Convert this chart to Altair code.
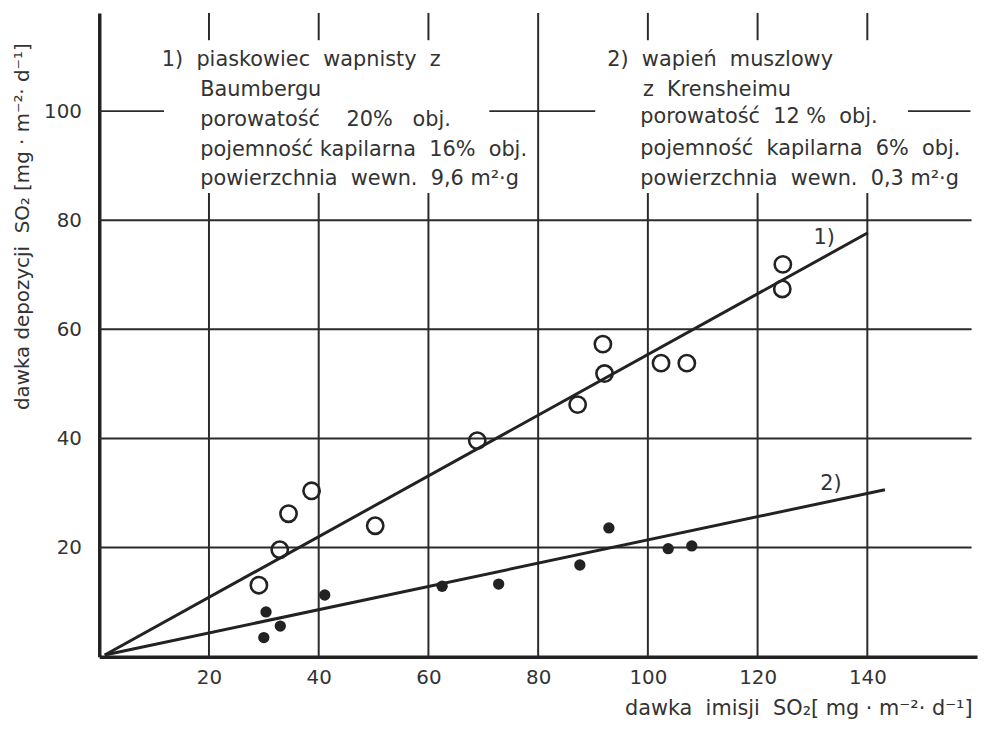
import altair as alt
import pandas as pd

# ---- data ----
# 1) piaskowiec wapnisty (open circles)
s1_x = [29.1, 32.9, 34.5, 38.7, 50.3, 68.9, 87.2, 91.8, 92.1, 102.4, 107.1, 124.5, 124.6]
s1_y = [13.1, 19.6, 26.2, 30.4, 24.0, 39.6, 46.2, 57.3, 51.9, 53.8, 53.8, 67.4, 71.9]
# 2) wapień muszlowy (filled dots)
s2_x = [30.0, 30.4, 33.0, 41.1, 62.5, 72.8, 87.6, 92.9, 103.7, 108.0]
s2_y = [3.5, 8.2, 5.6, 11.3, 12.9, 13.3, 16.8, 23.6, 19.8, 20.3]
# fitted lines
line1_x = [1.0, 140.1]
line1_y = [0.3, 77.7]
line2_x = [1.0, 143.2]
line2_y = [0.3, 30.6]

x_ticks = [20, 40, 60, 80, 100, 120, 140]
y_ticks = [20, 40, 60, 80, 100]

# grid pieces (the text boxes interrupt the grid in the upper part)
hgrid_y = [20, 40, 60, 80]
hgrid_100_from = [0.0, 71.1, 147.4]
hgrid_100_to = [11.8, 90.4, 158.8]
vgrid_low_x = [20, 40, 60, 100, 120, 140]
vgrid_full_x = [80]

S = "\u00a0"  # non-collapsing space
block1 = [f"1){S}{S}piaskowiec{S}{S}wapnisty{S}{S}z",
          "Baumbergu",
          f"porowatość{S}{S}{S}{S}20%{S}{S}{S}obj.",
          f"pojemność{S}kapilarna{S}{S}16%{S}{S}obj.",
          f"powierzchnia{S}{S}wewn.{S}{S}9,6{S}m²·g"]
block1_x = [11.4, 18.4, 18.4, 18.4, 18.4]
block1_y = [109.3, 103.8, 98.4, 92.9, 87.5]
block2 = [f"2){S}{S}wapień{S}{S}muszlowy",
          f"z{S}{S}Krensheimu",
          f"porowatość{S}{S}12{S}%{S}{S}obj.",
          f"pojemność{S}{S}kapilarna{S}{S}6%{S}{S}obj.",
          f"powierzchnia{S}{S}wewn.{S}{S}0,3{S}m²·g"]
block2_x = [92.6, 99.1, 98.6, 98.6, 98.6]
block2_y = [109.3, 103.8, 98.9, 93.1, 87.5]
line_labels = ["1)", "2)"]
line_labels_x = [130.2, 131.4]
line_labels_y = [76.8, 31.6]

FONT = "DejaVu Sans"
INK = "#222222"
TXT = "#333333"

xs = alt.Scale(domain=[0, 160], nice=False, zero=False)
ys = alt.Scale(domain=[0, 118], nice=False, zero=False)

x_axis = alt.Axis(values=x_ticks, grid=False, ticks=False, domainWidth=3.5, domainColor=INK,
                  labelFont=FONT, labelFontSize=20, labelColor=TXT, labelPadding=11,
                  title=f"dawka{S}{S}imisji{S}{S}SO₂[{S}mg{S}·{S}m⁻²·{S}d⁻¹]", titleFont=FONT,
                  titleFontSize=21, titleFontWeight="normal", titleColor=TXT, titleX=880,
                  titleY=58, titleAlign="right", titleBaseline="alphabetic", titleAngle=0)
y_axis = alt.Axis(values=y_ticks, grid=False, ticks=False, domainWidth=3.5, domainColor=INK,
                  labelFont=FONT, labelFontSize=20, labelColor=TXT, labelPadding=18,
                  title=f"dawka{S}depozycji{S}{S}SO₂{S}[mg{S}·{S}m⁻²·{S}d⁻¹]", titleFont=FONT,
                  titleFontSize=20, titleFontWeight="normal", titleColor=TXT, titleX=-77,
                  titleY=215, titleAlign="center", titleBaseline="middle", titleAngle=-90)


def X(field="x"):
    return alt.X(f"{field}:Q", scale=xs, axis=x_axis)


def Y(field="y"):
    return alt.Y(f"{field}:Q", scale=ys, axis=y_axis)


hgrid = pd.DataFrame({"y": hgrid_y, "x": [0] * len(hgrid_y), "x2": [159] * len(hgrid_y)})
h100 = pd.DataFrame({"y": [100] * 3, "x": hgrid_100_from, "x2": hgrid_100_to})
vlow = pd.DataFrame({"x": vgrid_low_x, "y": [0] * 6, "y2": [85] * 6})
vtop = pd.DataFrame({"x": vgrid_low_x, "y": [113] * 6, "y2": [118] * 6})
vfull = pd.DataFrame({"x": vgrid_full_x, "y": [0], "y2": [118]})

grid_style = dict(color="#2b2b2b", strokeWidth=2)
layers = []
layers.append(alt.Chart(hgrid).mark_rule(**grid_style).encode(x=X(), x2="x2:Q", y=Y()))
layers.append(alt.Chart(h100).mark_rule(**grid_style).encode(x=X(), x2="x2:Q", y=Y()))
layers.append(alt.Chart(vlow).mark_rule(**grid_style).encode(x=X(), y=Y(), y2="y2:Q"))
layers.append(alt.Chart(vtop).mark_rule(**grid_style).encode(x=X(), y=Y(), y2="y2:Q"))
layers.append(alt.Chart(vfull).mark_rule(**grid_style).encode(x=X(), y=Y(), y2="y2:Q"))

l1 = pd.DataFrame({"x": line1_x, "y": line1_y})
l2 = pd.DataFrame({"x": line2_x, "y": line2_y})
layers.append(alt.Chart(l1).mark_line(color=INK, strokeWidth=3).encode(x=X(), y=Y()))
layers.append(alt.Chart(l2).mark_line(color=INK, strokeWidth=3).encode(x=X(), y=Y()))

p1 = pd.DataFrame({"x": s1_x, "y": s1_y})
p2 = pd.DataFrame({"x": s2_x, "y": s2_y})
layers.append(alt.Chart(p1).mark_point(shape="circle", filled=False, color=INK, strokeWidth=2.6,
                                       size=270, opacity=1, fill="white", fillOpacity=0)
              .encode(x=X(), y=Y()))
layers.append(alt.Chart(p2).mark_point(shape="circle", filled=True, color=INK, size=130, opacity=1)
              .encode(x=X(), y=Y()))

txt_style = dict(font=FONT, fontSize=21, color=TXT, align="left", baseline="middle")
b1 = pd.DataFrame({"x": block1_x, "y": block1_y, "t": block1})
b2 = pd.DataFrame({"x": block2_x, "y": block2_y, "t": block2})
ll = pd.DataFrame({"x": line_labels_x, "y": line_labels_y, "t": line_labels})
layers.append(alt.Chart(b1).mark_text(**txt_style).encode(x=X(), y=Y(), text="t:N"))
layers.append(alt.Chart(b2).mark_text(**txt_style).encode(x=X(), y=Y(), text="t:N"))
layers.append(alt.Chart(ll).mark_text(**txt_style).encode(x=X(), y=Y(), text="t:N"))

chart = alt.layer(*layers).properties(
    width=885, height=649,
    autosize=alt.AutoSizeParams(type="none"),
    padding={"left": 92, "top": 2, "right": 6, "bottom": 74},
    background="white",
).configure_view(stroke=None)

chart.save("out.html", embed_options={"renderer": "svg", "actions": False})
